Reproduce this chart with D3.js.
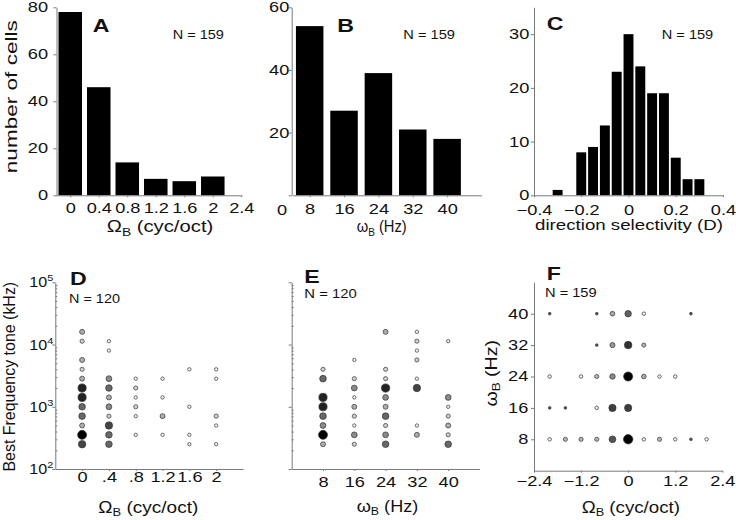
<!DOCTYPE html>
<html><head><meta charset="utf-8">
<script src="https://cdn.jsdelivr.net/npm/d3@7"></script>
<style>body{margin:0;background:#fff}svg{display:block}</style>
</head><body><svg id="c" width="736" height="520"></svg>
<script>
// ---------------- data ----------------
const omegaBins   = [0, 0.4, 0.8, 1.2, 1.6, 2];
const omegaCounts = [78, 46, 14, 7, 6, 8];
const omegaTicks  = [0, 0.4, 0.8, 1.2, 1.6, 2, 2.4];
const rateBins    = [8, 16, 24, 32, 40];
const rateCounts  = [54, 27, 39, 21, 18];
const dsBins      = [-0.3, -0.25, -0.2, -0.15, -0.1, -0.05, 0, 0.05, 0.1, 0.15, 0.2, 0.25, 0.3];
const dsCounts    = [1, 0, 8, 9, 13, 23, 30, 24, 19, 19, 7, 3, 3];
const dsTicks     = [-0.4, -0.2, 0, 0.2, 0.4];
const countTicksA = [0, 20, 40, 60, 80];
const countTicksB = [0, 20, 40, 60];
const countTicksC = [0, 10, 20, 30];
const bfTicks     = [1e2, 1e3, 1e4, 1e5];
const omegaTicksD = [0, 0.4, 0.8, 1.2, 1.6, 2];
const omegaLabelsD = ["0", ".4", ".8", "1.2", "1.6", "2"];
const rateTicksE  = [8, 16, 24, 32, 40];
const omegaTicksF = [-2.4, -1.2, 0, 1.2, 2.4];
const rateTicksF  = [8, 16, 24, 32, 40];
// [Omega_B, best frequency, number of cells]
const dotsD = [
  [0,16000,3],[0,11314,2],[0,5657,3],[0,4000,2],[0,2828,3],[0,2000,7],[0,1414,7],[0,1000,5],[0,707,5],[0,500,3],[0,354,8],[0,250,6],
  [0.4,11314,1],[0.4,8000,1],[0.4,2828,4],[0.4,2000,5],[0.4,1414,3],[0.4,1000,4],[0.4,707,2],[0.4,500,6],[0.4,354,5],[0.4,250,5],
  [0.8,2828,1],[0.8,2000,2],[0.8,1414,1],[0.8,1000,2],[0.8,707,1],[0.8,354,1],
  [1.2,2828,1],[1.2,1414,1],[1.2,707,3],[1.2,354,1],
  [1.6,4000,1],[1.6,1000,1],[1.6,354,1],[1.6,250,1],
  [2,4000,1],[2,2828,1],[2,707,2],[2,500,1],[2,250,1]
];
// [omega_B, best frequency, number of cells]
const dotsE = [
  [8,4000,2],[8,2828,5],[8,1414,7],[8,1000,7],[8,707,5],[8,500,4],[8,354,8],[8,250,3],
  [16,5657,1],[16,2828,2],[16,2000,4],[16,1414,1],[16,1000,3],[16,707,2],[16,500,1],[16,354,4],[16,250,2],
  [24,16000,3],[24,4000,2],[24,2828,2],[24,2000,7],[24,1414,4],[24,1000,3],[24,707,5],[24,500,2],[24,354,4],[24,250,5],
  [32,16000,1],[32,11314,2],[32,8000,1],[32,5657,2],[32,2828,1],[32,2000,6],[32,500,1],[32,354,3],
  [40,11314,1],[40,1414,4],[40,1000,1],[40,707,2],[40,500,3],[40,354,2],[40,250,5]
];
// [Omega_B, omega_B, number of cells]
const dotsF = [
  [-2,8,2],[-1.6,8,3],[-1.2,8,3],[-0.8,8,3],[-0.4,8,10],[0,8,23],[0.4,8,2],[0.8,8,3],[1.2,8,2],[1.6,8,1],[2,8,2],
  [-2,16,1],[-1.6,16,1],[-0.8,16,2],[-0.4,16,12],[0,16,12],
  [-2,24,2],[-1.2,24,2],[-0.8,24,3],[-0.4,24,6],[0,24,21],[0.4,24,4],[0.8,24,2],[1.2,24,2],
  [-0.8,32,1],[-0.4,32,5],[0,32,13],[0.4,32,3],
  [-2,40,1],[-0.8,40,1],[-0.4,40,4],[0,40,9],[0.4,40,2],[1.6,40,1]
];

// ---------------- helpers ----------------
const FONT = '"Liberation Sans", Arial, Helvetica, sans-serif';
const AX = '#7a7a7a', INK = '#111';
const TS = 14, SX = 1.3;
const svg = d3.select('#c');

function txt(parent, o) {
  const size = o.size || 14;
  const t = parent.append('text')
    .attr('font-family', FONT).attr('font-size', size)
    .attr('font-weight', o.weight || 'normal')
    .attr('text-anchor', o.anchor || 'start').attr('fill', INK);
  (o.parts || [{t: o.text}]).forEach(p => {
    const s = t.append('tspan').text(p.t);
    if (p.size) s.attr('font-size', size * p.size);
    if (p.dy) s.attr('dy', p.dy);
  });
  let k = o.sx || 1;
  if (o.width) k = o.width / t.node().getComputedTextLength();
  t.attr('transform', `translate(${o.x},${o.y}) rotate(${o.rot || 0}) scale(${k},1)`);
  return t;
}
const omegaCap = [{t:'\u03A9'},{t:'B', size:0.68, dy:3.5},{t:' (cyc/oct)', dy:-3.5}];
const omegaLow = [{t:'\u03C9'},{t:'B', size:0.68, dy:3.5},{t:' (Hz)', dy:-3.5}];

function styleAxis(g) {
  g.attr('font-family', FONT).attr('font-size', TS);
  g.select('.domain').attr('stroke', AX);
  g.selectAll('.tick line').attr('stroke', AX);
  g.selectAll('.tick text').attr('fill', INK).attr('transform', `scale(${SX},1)`);
  return g;
}
function bottomAxis(scale, y, ticks, pad, fmt) {
  const a = d3.axisBottom(scale).tickValues(ticks).tickSize(2).tickSizeOuter(0).tickPadding(pad);
  if (fmt) a.tickFormat(fmt);
  return styleAxis(svg.append('g').attr('transform', `translate(0,${y})`).call(a));
}
function leftAxis(scale, x, ticks, gap, fmt) {
  const a = d3.axisLeft(scale).tickValues(ticks).tickSize(3).tickSizeOuter(0).tickPadding(gap / SX - 3);
  if (fmt) a.tickFormat(fmt);
  return styleAxis(svg.append('g').attr('transform', `translate(${x},0)`).call(a));
}
const signed = d => d === 0 ? '0' : d3.format('.1f')(d).replace('-', '\u2212');

// ---------------- Panel A ----------------
const xA = d3.scaleLinear().domain([-0.2, 2.4]).range([56, 241.3]);
const yA = d3.scaleLinear().domain([0, 80]).range([195.3, 7.3]);
svg.append('g').selectAll('rect').data(omegaBins).join('rect')
  .attr('x', (d) => xA(d - 0.165)).attr('width', xA(0.33) - xA(0))
  .attr('y', (d, i) => yA(omegaCounts[i])).attr('height', (d, i) => yA(0) - yA(omegaCounts[i]))
  .attr('fill', '#000');
bottomAxis(xA, 195.3, omegaTicks, 5.8, d3.format('~g'));
leftAxis(yA, 56.5, countTicksA, 8.5);
txt(svg, {x:92.7, y:32, text:'A', size:19, weight:'bold', sx:1.22});
txt(svg, {x:172.7, y:39, text:'N = 159', size:12, width:51.3});
txt(svg, {x:160, y:232, parts:omegaCap, size:16, anchor:'middle', width:106.6});
txt(svg, {x:16.5, y:96.7, text:'number of cells', size:17, anchor:'middle', rot:-90, width:153});

// ---------------- Panel B ----------------
const xB = d3.scaleLinear().domain([4, 48]).range([292.5, 481.5]);
const yB = d3.scaleLinear().domain([0, 60]).range([195.3, 7.3]);
svg.append('g').selectAll('rect').data(rateBins).join('rect')
  .attr('x', (d) => xB(d - 3.2)).attr('width', xB(6.4) - xB(0))
  .attr('y', (d, i) => yB(rateCounts[i])).attr('height', (d, i) => yB(0) - yB(rateCounts[i]))
  .attr('fill', '#000');
bottomAxis(xB, 195.3, rateBins, 6.8);
const gB = leftAxis(yB, 291.7, countTicksB, 2.4);
gB.selectAll('.tick text').filter(d => d === 0).attr('x', -3.6).attr('y', 15);
txt(svg, {x:337.3, y:32, text:'B', size:19, weight:'bold', sx:1.22});
txt(svg, {x:403.3, y:39, text:'N = 159', size:12, width:51.7});
txt(svg, {x:381.7, y:232, parts:omegaLow, size:16, anchor:'middle', width:50});

// ---------------- Panel C ----------------
const xC = d3.scaleLinear().domain([-0.4, 0.4]).range([534, 723]);
const yC = d3.scaleLinear().domain([0, 35]).range([195.3, 7.3]);
svg.append('g').selectAll('rect').data(dsBins).join('rect')
  .attr('x', (d) => xC(d - 0.021)).attr('width', xC(0.042) - xC(0))
  .attr('y', (d, i) => yC(dsCounts[i])).attr('height', (d, i) => yC(0) - yC(dsCounts[i]))
  .attr('fill', '#000');
bottomAxis(xC, 195.3, dsTicks, 7.3, signed);
leftAxis(yC, 534, countTicksC, 4.7);
txt(svg, {x:546.7, y:30, text:'C', size:19, weight:'bold', sx:1.22});
txt(svg, {x:661.7, y:39.3, text:'N = 159', size:12, width:51.6});
txt(svg, {x:629, y:230, text:'direction selectivity (D)', size:15, anchor:'middle', width:188});

// ---------------- Panels D & E shared ----------------
function logAxis(y, x, withLabels) {
  const a = d3.axisLeft(y).tickValues(bfTicks).tickSize(3).tickSizeOuter(0).tickFormat('');
  const g = styleAxis(svg.append('g').attr('transform', `translate(${x},0)`).call(a));
  const minor = [];
  for (let e = 2; e < 5; e++) for (let m = 2; m < 10; m++) minor.push(m * Math.pow(10, e));
  const m = d3.axisLeft(y).tickValues(minor).tickSize(-2).tickFormat('');
  const gm = svg.append('g').attr('transform', `translate(${x},0)`).call(m);
  gm.select('.domain').remove();
  gm.selectAll('.tick line').attr('stroke', AX);
  if (withLabels) {
    bfTicks.forEach(v => {
      txt(svg, {x:x - 2, y:y(v) + 5, anchor:'end', size:14, sx:1.15,
        parts:[{t:'10'},{t:String(Math.round(Math.log10(v))), size:0.68, dy:-6}]});
    });
  }
  return g;
}
const yLog = d3.scaleLog().domain([1e2, 1e5]).range([469, 282.3]);
const rDE = d3.scaleLinear().domain([1, 8]).range([1.7, 4.5]);
const fDE = d3.scaleLinear().domain([1, 8]).range(['#f2f2f2', '#000']);

// ---------------- Panel D ----------------
const xD = d3.scaleLinear().domain([-0.4, 2.4]).range([55.3, 243]);
bottomAxis(xD, 469, omegaTicksD, 1.4, (d, i) => omegaLabelsD[i]);
logAxis(yLog, 55.3, true);
svg.append('g').selectAll('circle').data(dotsD).join('circle')
  .attr('cx', d => xD(d[0])).attr('cy', d => yLog(d[1])).attr('r', d => rDE(d[2]))
  .attr('fill', d => fDE(d[2])).attr('stroke', '#333').attr('stroke-width', 0.7);
txt(svg, {x:70, y:285, text:'D', size:19, weight:'bold', sx:1.22});
txt(svg, {x:69, y:303.3, text:'N = 120', size:12, width:51});
txt(svg, {x:148.3, y:512.5, parts:omegaCap, size:16, anchor:'middle', width:100});
txt(svg, {x:14.7, y:376.7, text:'Best Frequency tone (kHz)', size:16, anchor:'middle', rot:-90, width:190});

// ---------------- Panel E ----------------
const xE = d3.scaleLinear().domain([0, 48]).range([291.7, 479.5]);
bottomAxis(xE, 469, rateTicksE, 6);
logAxis(yLog, 291.7, false);
svg.append('g').selectAll('circle').data(dotsE).join('circle')
  .attr('cx', d => xE(d[0])).attr('cy', d => yLog(d[1])).attr('r', d => rDE(d[2]))
  .attr('fill', d => fDE(d[2])).attr('stroke', '#333').attr('stroke-width', 0.7);
txt(svg, {x:304.3, y:283.3, text:'E', size:19, weight:'bold', sx:1.22});
txt(svg, {x:304.3, y:298.3, text:'N = 120', size:12, width:52.4});
txt(svg, {x:387.5, y:511.5, parts:omegaLow, size:16, anchor:'middle', width:61.7});

// ---------------- Panel F ----------------
const xF = d3.scaleLinear().domain([-2.4, 2.4]).range([534, 722.3]);
const yF = d3.scaleLinear().domain([0, 48]).range([470.7, 282.3]);
bottomAxis(xF, 470.7, omegaTicksF, 3.7, signed);
leftAxis(yF, 534, rateTicksF, 5.7);
const rF = d3.scalePow().exponent(0.4).domain([0, 23]).range([0, 4.7]);
const fF = d3.scaleLinear().domain([1, 2, 3, 6, 10, 13, 21]).range(['#555', '#f2f2f2', '#b5b5b5', '#8a8a8a', '#555', '#333', '#000']).clamp(true);
svg.append('g').selectAll('circle').data(dotsF).join('circle')
  .attr('cx', d => xF(d[0])).attr('cy', d => yF(d[1])).attr('r', d => rF(d[2]))
  .attr('fill', d => fF(d[2])).attr('stroke', '#333').attr('stroke-width', 0.7);
txt(svg, {x:546.7, y:280, text:'F', size:19, weight:'bold', sx:1.22});
txt(svg, {x:545, y:296.7, text:'N = 159', size:12, width:51.7});
txt(svg, {x:630.8, y:512.5, parts:omegaCap, size:16, anchor:'middle', width:98.3});
txt(svg, {x:496.5, y:373.3, parts:omegaLow, size:16, anchor:'middle', rot:-90, width:66.7});
</script>
</body></html>
